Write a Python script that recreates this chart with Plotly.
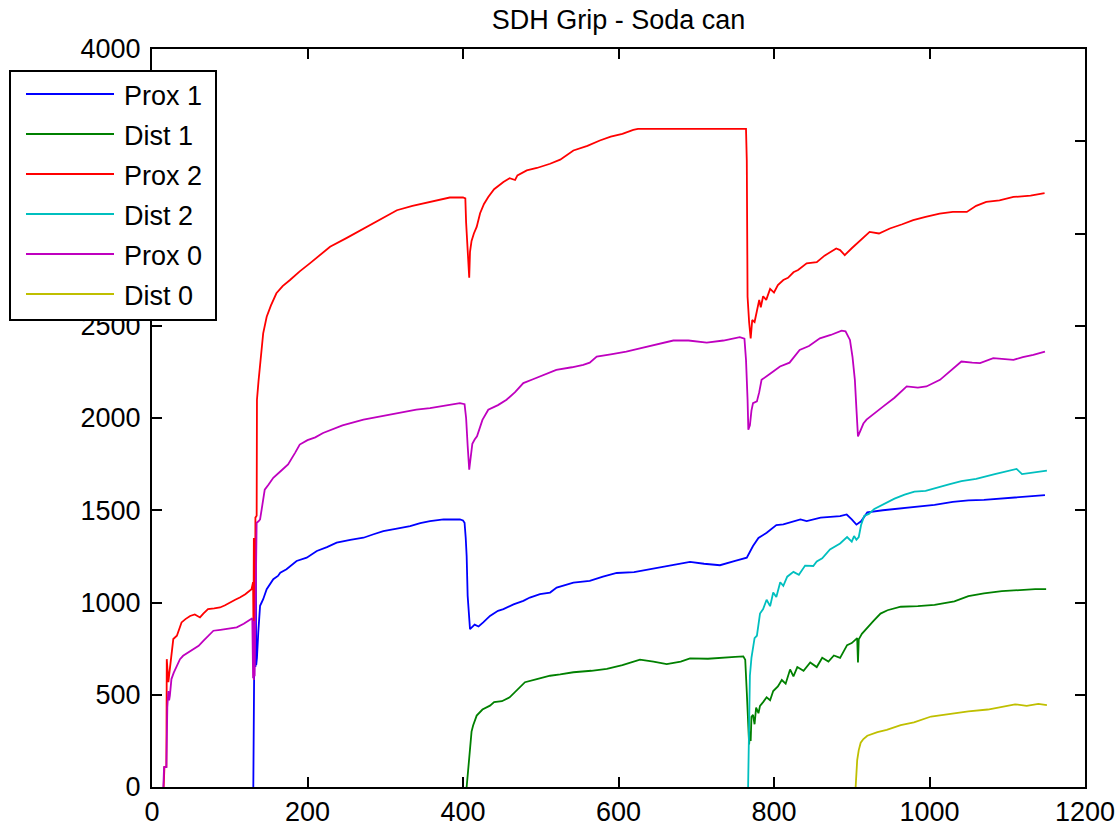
import plotly.graph_objects as go

# ---------------- data ----------------
prox1_x = [130.3, 131, 132, 132.5, 133, 133.5, 134, 135, 136.7, 139, 141, 143, 147.5, 150, 156, 162, 165, 173,
           186, 199, 212, 225, 237.5, 255, 272, 285, 297.5, 315, 332, 345, 357.6, 375, 396, 400, 402, 403.5,
           404.7, 406, 407, 409, 415, 420, 426, 434.7, 445, 452, 465, 477.6, 486, 499, 512, 520.5, 542, 563,
           580, 597.7, 620, 649, 670, 692, 710, 730.5, 750, 765, 773, 780, 790.6, 803, 812, 834, 842, 860,
           885, 893.5, 900, 906, 912, 920, 940, 955, 980, 1006.5, 1030, 1050, 1070, 1093, 1120, 1148.5]
prox1_y = [0, 387, 700, 1270, 650, 1200, 660, 700, 838, 982, 1000, 1018, 1072, 1090, 1126, 1144, 1162, 1180,
           1225, 1243, 1279, 1300, 1324, 1340, 1351, 1370, 1387, 1400, 1414, 1430, 1441, 1450, 1450, 1445, 1432, 1350,
           1252, 1036, 950, 856, 880, 870, 892, 927, 955, 964, 990, 1009, 1027, 1045, 1054, 1081, 1108, 1117,
           1140, 1160, 1165, 1186, 1200, 1220, 1210, 1202, 1225, 1243, 1306, 1350, 1378, 1420, 1423, 1450, 1441, 1460,
           1468, 1477, 1450, 1422, 1440, 1488, 1500, 1507, 1515, 1529, 1545, 1554, 1556, 1563, 1570, 1582]

dist1_x = [404.7, 407, 409, 411, 413, 417.6, 425, 434.7, 440, 450, 460, 470, 479.7, 495, 512, 525, 542, 565,
           585, 605, 627.6, 645, 662, 680, 692, 715, 735, 750, 760.5, 763, 765, 767, 768, 769, 770, 771, 773,
           775, 777, 780, 782, 786, 790.5, 795, 799, 805, 810, 815, 820.7, 825, 830, 838, 846.6, 855, 862, 870,
           877, 885, 890, 894, 900, 905, 907, 908, 909, 913, 920, 928, 937, 946, 963, 985, 1006.5, 1020, 1032,
           1050, 1070, 1093, 1115, 1136, 1150]
dist1_y = [0, 120, 225, 300, 333, 387, 420, 441, 460, 465, 486, 530, 568, 585, 603, 610, 622, 630,
           640, 660, 690, 680, 666, 680, 697, 695, 703, 705, 708, 690, 514, 300, 231, 300, 250, 380, 391,
           340, 430, 400, 440, 460, 486, 470, 520, 545, 580, 560, 637, 600, 650, 630, 675, 650, 700, 680,
           713, 700, 740, 769, 780, 800, 807, 675, 800, 830, 864, 900, 940, 958, 977, 980, 987, 995, 1006,
           1034, 1050, 1062, 1068, 1072, 1072]

prox2_x = [15, 16, 18.5, 19, 21, 23, 25, 27.4, 32, 38, 43, 49, 55, 61.7, 66, 72, 80, 87.5, 94, 100, 107, 113,
           120, 128, 130, 130.5, 131, 131.5, 132, 132.5, 133, 134.6, 135, 137, 139, 143, 147.5, 153, 160, 168,
           177.5, 190, 203, 215, 229, 250, 272, 293, 315, 335, 357.6, 383, 400, 403, 404, 406, 407, 408, 409,
           411, 414, 417.6, 422, 427, 432.5, 440, 452, 460, 467, 470, 482, 495, 512, 525, 542, 560, 576, 590,
           605, 619, 625, 764, 765, 766, 768, 770, 772, 775, 778, 781, 783, 786, 790, 795, 800, 805, 812, 818,
           825, 831, 842, 855, 865, 873, 880, 885, 891, 900, 910, 923, 935, 949, 965, 979, 995, 1013, 1030,
           1048, 1060, 1073, 1090, 1108, 1130, 1148]
prox2_y = [0, 108, 110, 693, 568, 650, 730, 802, 820, 892, 910, 927, 935, 919, 940, 964, 968, 973, 985, 1000, 1015, 1027,
           1045, 1072, 1110, 860, 1350, 880, 1300, 850, 1460, 1470, 2099, 2200, 2279, 2459, 2549, 2610, 2676, 2715,
           2748, 2795, 2838, 2880, 2928, 2975, 3027, 3075, 3126, 3150, 3171, 3195, 3195, 3190, 3060, 2900, 2800, 2760, 2900,
           2960, 3000, 3036, 3110, 3160, 3198, 3240, 3279, 3300, 3290, 3315, 3342, 3355, 3378, 3400, 3450, 3475, 3504, 3525,
           3540, 3562, 3567, 3567, 3396, 2657, 2520, 2432, 2531, 2520, 2580, 2640, 2600, 2660, 2640, 2700, 2680, 2720, 2748, 2760,
           2790, 2802, 2838, 2845, 2880, 2900, 2919, 2910, 2883, 2920, 2960, 3009, 3000, 3027, 3050, 3072, 3090, 3108, 3117,
           3117, 3150, 3171, 3180, 3198, 3205, 3219]

dist2_x = [766.7, 767.5, 769, 771, 775, 778, 782, 786, 790.5, 795, 799, 803, 808, 812, 817, 825, 832, 840, 850.5,
           855, 862, 872, 877, 885, 894, 900, 903, 906, 909, 912, 916, 922, 929, 940, 955, 968, 980.6, 995, 1006.5,
           1025, 1041, 1060, 1084, 1100, 1112, 1119, 1135, 1151]
dist2_y = [0, 300, 603, 700, 807, 820, 940, 964, 1015, 980, 1054, 1030, 1110, 1090, 1140, 1166, 1150, 1200, 1198,
           1223, 1240, 1288, 1299, 1320, 1355, 1330, 1360, 1340, 1355, 1420, 1469, 1480, 1507, 1530, 1563, 1585, 1601, 1605, 1620,
           1640, 1658, 1670, 1696, 1710, 1724, 1696, 1705, 1715]

prox0_x = [14.6, 15.5, 18.5, 19.7, 21, 22, 23, 25, 28, 31.7, 36, 40, 47, 53, 60, 66, 72, 79, 88, 96, 103, 109,
           118, 126, 129, 130, 130.5, 131, 131.5, 132, 133, 134.6, 137, 139, 142, 145, 150, 156, 165, 175, 184,
           190, 200, 210, 220, 245, 272, 295, 315, 340, 357.6, 380, 396, 402, 404, 406, 407, 408, 410, 412, 415,
           418, 425, 432.5, 445, 456, 467, 477.6, 490, 505, 520, 540, 554.7, 563, 572, 590, 610, 627.6, 650,
           670.5, 690, 713.5, 735, 756, 762, 764, 766, 767, 769, 771, 773, 778, 781, 784, 795, 807.7, 820, 833,
           845, 859, 873, 887, 892, 897.7, 901, 904, 906, 908, 912, 915, 919, 930, 940.6, 955, 970.7, 985, 996,
           1013.5, 1028, 1041, 1055, 1065, 1082, 1095, 1108, 1120, 1133.5, 1148.5]
prox0_y = [0, 108, 108, 432, 520, 470, 495, 585, 620, 657, 693, 711, 730, 748, 765, 792, 820, 847, 852, 856, 860, 865,
           885, 910, 915, 590, 900, 580, 880, 600, 920, 1432, 1440, 1450, 1530, 1612, 1640, 1676, 1710, 1748, 1811,
           1856, 1880, 1895, 1919, 1960, 1991, 2010, 2027, 2045, 2054, 2070, 2081, 2075, 2000, 1850, 1740, 1720, 1790, 1860, 1883,
           1901, 1990, 2045, 2070, 2099, 2140, 2189, 2210, 2235, 2261, 2275, 2288, 2300, 2333, 2345, 2360, 2378, 2400,
           2420, 2420, 2409, 2420, 2438, 2430, 2315, 2100, 1937, 1960, 2040, 2081, 2090, 2140, 2207, 2240, 2279, 2300, 2369,
           2390, 2432, 2450, 2473, 2470, 2423, 2330, 2207, 2050, 1900, 1940, 1970, 1991, 2030, 2063, 2110, 2171, 2165, 2171,
           2207, 2260, 2306, 2300, 2297, 2324, 2320, 2315, 2330, 2342, 2360]

dist0_x = [905, 907, 909, 911.5, 915, 920, 933, 945, 963, 980, 1002, 1025, 1050, 1075, 1101.5, 1110, 1125, 1140, 1151]
dist0_y = [0, 146, 200, 240, 260, 278, 297, 310, 335, 350, 382, 395, 410, 420, 439, 448, 440, 450, 444]

series_names = ["Prox 1", "Dist 1", "Prox 2", "Dist 2", "Prox 0", "Dist 0"]
series_x = [prox1_x, dist1_x, prox2_x, dist2_x, prox0_x, dist0_x]
series_y = [prox1_y, dist1_y, prox2_y, dist2_y, prox0_y, dist0_y]
series_colors = ["#0000ff", "#008000", "#ff0000", "#00bfbf", "#bf00bf", "#bfbf00"]

x_ticks = [0, 200, 400, 600, 800, 1000, 1200]
y_ticks = [0, 500, 1000, 1500, 2000, 2500, 3000, 3500, 4000]
# 3000 and 3500 labels are hidden behind the legend box in the reference
y_hidden_labels = [3000, 3500]
title_text = "SDH Grip - Soda can"

# ---------------- figure ----------------
W, H = 1119, 827
L, R, T, B = 152, 1085, 49, 787   # plot area in pixels
FONT = "Liberation Sans, Arial, sans-serif"
FS = 27

fig = go.Figure()
for name, xs, ys, col in zip(series_names, series_x, series_y, series_colors):
    fig.add_trace(go.Scatter(x=xs, y=ys, mode="lines", name=name,
                             line=dict(color=col, width=1.8), showlegend=False))

def px2paper_x(px):
    return (px - L) / (R - L)

def px2paper_y(py):
    return (B - py) / (B - T)

axis_common = dict(showgrid=False, zeroline=False, showline=True, linecolor="#000000", linewidth=2,
                   mirror="ticks", ticks="inside", ticklen=10, tickwidth=2, tickcolor="#000000",
                   automargin=False,
                   tickfont=dict(family=FONT, size=FS, color="#000000"))

fig.update_layout(
    width=W, height=H,
    margin=dict(l=L, r=W - R, t=T, b=H - B, pad=0, autoexpand=False),
    paper_bgcolor="white", plot_bgcolor="white",
    title=dict(text=title_text, x=0.5, xref="paper", y=1 - 20 / H, yref="container",
               xanchor="center", yanchor="middle",
               font=dict(family=FONT, size=FS, color="#000000")),
    xaxis=dict(range=[0, 1200], tickvals=x_ticks, ticktext=[str(v) for v in x_ticks],
               ticklabelstandoff=0, **axis_common),
    yaxis=dict(range=[0, 4000], tickvals=y_ticks,
               ticktext=["" if v in y_hidden_labels else str(v) for v in y_ticks],
               ticklabelstandoff=4, **axis_common),
    showlegend=False,
)

# ---------------- legend drawn as a box (MATLAB style) ----------------
box_l, box_r, box_t, box_b = 10, 216, 71, 320
fig.add_shape(type="rect", xref="paper", yref="paper", layer="above",
              x0=px2paper_x(box_l), x1=px2paper_x(box_r), y0=px2paper_y(box_b), y1=px2paper_y(box_t),
              line=dict(color="#000000", width=2), fillcolor="white")
row_y0, row_step = 94, 40
for i, (name, col) in enumerate(zip(series_names, series_colors)):
    ly = row_y0 + i * row_step
    fig.add_shape(type="line", xref="paper", yref="paper", layer="above",
                  x0=px2paper_x(26), x1=px2paper_x(114), y0=px2paper_y(ly), y1=px2paper_y(ly),
                  line=dict(color=col, width=1.8))
    fig.add_annotation(xref="paper", yref="paper", x=px2paper_x(122), y=px2paper_y(ly + 2),
                       text=name, showarrow=False, xanchor="left", yanchor="middle",
                       font=dict(family=FONT, size=FS, color="#000000"))

fig.write_html("out.html")
